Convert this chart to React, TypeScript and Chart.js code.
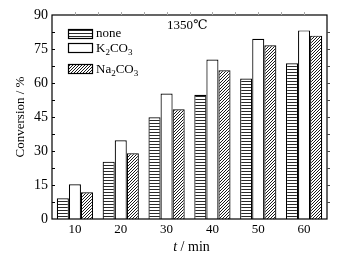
import React, { useEffect, useRef } from "react";
import { Chart, registerables } from "chart.js";

Chart.register(...registerables);

const categories = ["10", "20", "30", "40", "50", "60"];
const noneValues = [9.1, 25.3, 44.9, 54.8, 62.0, 68.7];
const k2co3Values = [15.3, 34.7, 55.4, 70.4, 79.5, 83.2];
const na2co3Values = [11.8, 29.0, 48.4, 65.6, 76.6, 80.9];
const yTicks = [0, 15, 30, 45, 60, 75, 90];

const SERIF = "'Liberation Serif', 'DejaVu Serif', serif";

function hPattern(): CanvasPattern | string {
  const c = document.createElement("canvas");
  c.width = 4;
  c.height = 3;
  const g = c.getContext("2d")!;
  g.fillStyle = "#ffffff";
  g.fillRect(0, 0, 4, 3);
  g.fillStyle = "#2a2a2a";
  g.fillRect(0, 0, 4, 1);
  return g.createPattern(c, "repeat") || "#888";
}

function dPattern(): CanvasPattern | string {
  const c = document.createElement("canvas");
  c.width = 3;
  c.height = 3;
  const g = c.getContext("2d")!;
  g.fillStyle = "#ffffff";
  g.fillRect(0, 0, 3, 3);
  g.strokeStyle = "#1a1a1a";
  g.lineWidth = 1;
  g.beginPath();
  g.moveTo(-1, 4);
  g.lineTo(4, -1);
  g.moveTo(-1, 1);
  g.lineTo(1, -1);
  g.moveTo(2, 4);
  g.lineTo(4, 2);
  g.stroke();
  return g.createPattern(c, "repeat") || "#555";
}

export default function App() {
  const ref = useRef<HTMLCanvasElement | null>(null);

  useEffect(() => {
    if (!ref.current) return;
    const pH = hPattern();
    const pD = dPattern();

    const decor = {
      id: "decor",
      afterDraw(chart: any) {
        const ctx = chart.ctx as CanvasRenderingContext2D;
        const a = chart.chartArea;
        const y = chart.scales.y;
        ctx.save();
        // frame
        ctx.strokeStyle = "#000";
        ctx.lineWidth = 1.2;
        ctx.strokeRect(a.left, a.top, a.right - a.left, a.bottom - a.top);
        // left inward ticks & right outward ticks
        ctx.lineWidth = 1;
        for (let v = 7.5; v < 90; v += 7.5) {
          const py = Math.round(y.getPixelForValue(v)) + 0.5;
          ctx.strokeStyle = "#000";
          ctx.beginPath();
          ctx.moveTo(a.left, py);
          ctx.lineTo(a.left + 3, py);
          ctx.stroke();
          ctx.strokeStyle = "#444";
          ctx.beginPath();
          ctx.moveTo(a.right, py);
          ctx.lineTo(a.right + 3, py);
          ctx.stroke();
        }
        // top faint ticks
        ctx.strokeStyle = "#aaa";
        const n = categories.length;
        const step = (a.right - a.left) / n;
        for (let i = 1; i < n * 2; i++) {
          const px = Math.round(a.left + (step / 2) * i) + 0.5;
          ctx.beginPath();
          ctx.moveTo(px, a.top);
          ctx.lineTo(px, a.top - 3);
          ctx.stroke();
        }
        // legend
        const items = [
          { fill: pH, cy: 33, parts: [["none", false]] },
          { fill: "#fff", cy: 47.5, parts: [["K", false], ["2", true], ["CO", false], ["3", true]] },
          { fill: pD, cy: 68.5, parts: [["Na", false], ["2", true], ["CO", false], ["3", true]] },
        ];
        items.forEach((it) => {
          const sx = 68.5, sw = 24, sh = 9;
          const sy = Math.round(it.cy - sh / 2) + 0.5;
          ctx.fillStyle = it.fill as any;
          ctx.fillRect(sx, sy, sw, sh);
          ctx.strokeStyle = "#000";
          ctx.lineWidth = 1.2;
          ctx.strokeRect(sx, sy, sw, sh);
          let tx = 96;
          ctx.fillStyle = "#000";
          ctx.textBaseline = "alphabetic";
          ctx.textAlign = "left";
          (it.parts as any[]).forEach(([t, sub]) => {
            ctx.font = `${sub ? 9 : 13}px ${SERIF}`;
            ctx.fillText(t, tx, it.cy + 4 + (sub ? 3 : 0));
            tx += ctx.measureText(t).width;
          });
        });
        // 1350℃
        ctx.font = `13px ${SERIF}`;
        ctx.fillStyle = "#000";
        ctx.textAlign = "left";
        ctx.textBaseline = "middle";
        ctx.fillText("1350℃", 167, 26);
        // x title
        ctx.textBaseline = "alphabetic";
        const t1 = "t";
        ctx.font = `14px ${SERIF}`;
        const rest = " / min";
        const wRest = ctx.measureText(rest).width;
        ctx.font = `italic 14px ${SERIF}`;
        const wT = ctx.measureText(t1).width;
        const cx = (a.left + a.right) / 2 + 2;
        const xx = cx - (wT + wRest) / 2;
        ctx.fillText(t1, xx, 251);
        ctx.font = `14px ${SERIF}`;
        ctx.fillText(rest, xx + wT, 251);
        // y title
        ctx.translate(24, (a.top + a.bottom) / 2);
        ctx.rotate(-Math.PI / 2);
        ctx.textAlign = "center";
        ctx.font = `13px ${SERIF}`;
        ctx.fillText("Conversion / %", 0, 0);
        ctx.restore();
      },
    };

    const chart = new Chart(ref.current, {
      type: "bar",
      data: {
        labels: categories,
        datasets: [
          { label: "none", data: noneValues, backgroundColor: pH as any, borderColor: "#000", borderWidth: 1.2 },
          { label: "K2CO3", data: k2co3Values, backgroundColor: "#fff", borderColor: "#000", borderWidth: 1.2 },
          { label: "Na2CO3", data: na2co3Values, backgroundColor: pD as any, borderColor: "#000", borderWidth: 1.2 },
        ],
      },
      options: {
        animation: false,
        responsive: true,
        maintainAspectRatio: false,
        layout: { padding: { left: 0, right: 18, top: 15, bottom: 0 } },
        datasets: { bar: { categoryPercentage: 0.79, barPercentage: 1 } },
        plugins: { legend: { display: false }, tooltip: { enabled: false } },
        scales: {
          x: {
            grid: { display: false, drawTicks: false },
            border: { display: false },
            ticks: { color: "#000", font: { family: SERIF, size: 13 }, padding: 3 },
            afterFit(s: any) { s.height = 46; },
          },
          y: {
            min: 0,
            max: 90,
            afterBuildTicks(s: any) { s.ticks = yTicks.map((v) => ({ value: v })); },
            grid: { display: false, drawTicks: false },
            border: { display: false },
            ticks: { color: "#000", font: { family: SERIF, size: 14 }, padding: 4 },
            afterFit(s: any) { s.width = 52; },
          },
        },
      },
      plugins: [decor],
    });
    return () => chart.destroy();
  }, []);

  return (
    <div style={{ position: "fixed", left: 0, top: 0, width: 345, height: 265, background: "#fff" }}>
      <canvas ref={ref} />
    </div>
  );
}
